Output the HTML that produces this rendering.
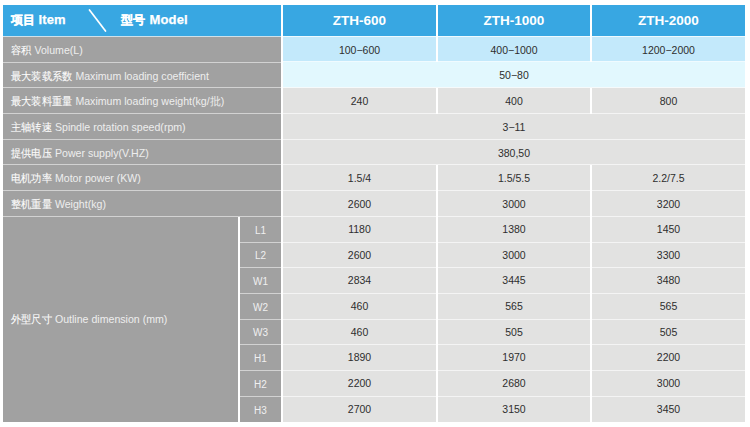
<!DOCTYPE html>
<html><head><meta charset="utf-8">
<style>
html,body{margin:0;padding:0;background:#fff;}
body{width:750px;height:427px;position:relative;overflow:hidden;font-family:"Liberation Sans",sans-serif;}
.c{position:absolute;box-sizing:border-box;display:flex;align-items:center;justify-content:center;white-space:nowrap;}
.h{color:#fff;font-weight:bold;}
.zt{font-size:13.5px;position:relative;top:0px;left:0px;}
.hx{position:absolute;color:#fff;font-weight:bold;white-space:nowrap;line-height:16px;}
.hx.k{font-size:12px;font-weight:700;letter-spacing:0.6px;-webkit-text-stroke:0.3px #fff;}
.hx.e{font-size:13px;-webkit-text-stroke:0.25px #fff;letter-spacing:0.15px;}
.lab{justify-content:flex-start;color:#fff;}
.lt{margin-left:8px;position:relative;top:-0.4px;}
.cj{display:inline-block;font-size:11px;font-weight:500;transform:scaleX(0.93);transform-origin:0 50%;-webkit-text-stroke:0.1px #f4f4f4;}
.en{font-size:10.6px;margin-left:3px;color:#eeeeee;}
.sl{color:#f0f0f0;font-size:10px;}
.st{position:relative;top:0.5px;}
.d{color:#2e2e2e;font-size:10.5px;}
.dt{position:relative;top:0.5px;}
.dt.lo{top:-0.5px;}
svg{position:absolute;left:0;top:0;}
.ln{position:absolute;height:1px;}
</style></head><body>
<div class="c h" style="left:3px;top:5px;width:278px;height:31px;background:#38a7e2;"></div><div class="c h" style="left:283px;top:5px;width:153px;height:31px;background:#38a7e2;"><span class="zt">ZTH-600</span></div><div class="c h" style="left:438px;top:5px;width:152px;height:31px;background:#38a7e2;"><span class="zt">ZTH-1000</span></div><div class="c h" style="left:592px;top:5px;width:153px;height:31px;background:#38a7e2;"><span class="zt">ZTH-2000</span></div><div class="c lab" style="left:3px;top:37px;width:278px;height:25px;background:#a1a1a1;"><span class="lt"><span class="cj" style="margin-right:-1.54px">容积</span><span class="en">Volume(L)</span></span></div><div class="c d" style="left:283px;top:37px;width:153px;height:24px;background:#c3e9fb;"><span class="dt">100−600</span></div><div class="c d" style="left:438px;top:37px;width:152px;height:24px;background:#c3e9fb;"><span class="dt">400−1000</span></div><div class="c d" style="left:592px;top:37px;width:153px;height:24px;background:#c3e9fb;"><span class="dt">1200−2000</span></div><div class="c lab" style="left:3px;top:63px;width:278px;height:24px;background:#a1a1a1;"><span class="lt"><span class="cj" style="margin-right:-4.62px">最大装载系数</span><span class="en">Maximum loading coefficient</span></span></div><div class="c d" style="left:283px;top:62px;width:462px;height:25px;background:#e2f8fe;"><span class="dt">50−80</span></div><div class="c lab" style="left:3px;top:88px;width:278px;height:25px;background:#a1a1a1;"><span class="lt"><span class="cj" style="margin-right:-4.62px">最大装料重量</span><span class="en">Maximum loading weight(kg/批)</span></span></div><div class="c d" style="left:283px;top:88px;width:153px;height:25px;background:#e2e2e1;"><span class="dt">240</span></div><div class="c d" style="left:438px;top:88px;width:152px;height:25px;background:#e2e2e1;"><span class="dt">400</span></div><div class="c d" style="left:592px;top:88px;width:153px;height:25px;background:#e2e2e1;"><span class="dt">800</span></div><div class="c lab" style="left:3px;top:114px;width:278px;height:25px;background:#a1a1a1;"><span class="lt"><span class="cj" style="margin-right:-3.08px">主轴转速</span><span class="en">Spindle rotation speed(rpm)</span></span></div><div class="c d" style="left:283px;top:114px;width:462px;height:25px;background:#e2e2e1;"><span class="dt">3−11</span></div><div class="c lab" style="left:3px;top:140px;width:278px;height:24px;background:#a1a1a1;"><span class="lt"><span class="cj" style="margin-right:-3.08px">提供电压</span><span class="en">Power supply(V.HZ)</span></span></div><div class="c d" style="left:283px;top:140px;width:462px;height:24px;background:#e2e2e1;"><span class="dt">380,50</span></div><div class="c lab" style="left:3px;top:165px;width:278px;height:25px;background:#a1a1a1;"><span class="lt"><span class="cj" style="margin-right:-3.08px">电机功率</span><span class="en">Motor power (KW)</span></span></div><div class="c d" style="left:283px;top:165px;width:153px;height:25px;background:#e2e2e1;"><span class="dt">1.5/4</span></div><div class="c d" style="left:438px;top:165px;width:152px;height:25px;background:#e2e2e1;"><span class="dt">1.5/5.5</span></div><div class="c d" style="left:592px;top:165px;width:153px;height:25px;background:#e2e2e1;"><span class="dt">2.2/7.5</span></div><div class="c lab" style="left:3px;top:191px;width:278px;height:25px;background:#a1a1a1;"><span class="lt"><span class="cj" style="margin-right:-3.08px">整机重量</span><span class="en">Weight(kg)</span></span></div><div class="c d" style="left:283px;top:191px;width:153px;height:25px;background:#e2e2e1;"><span class="dt">2600</span></div><div class="c d" style="left:438px;top:191px;width:152px;height:25px;background:#e2e2e1;"><span class="dt">3000</span></div><div class="c d" style="left:592px;top:191px;width:153px;height:25px;background:#e2e2e1;"><span class="dt">3200</span></div><div class="ln" style="left:3px;top:36px;width:278px;background:#cfe1ea"></div><div class="ln" style="left:283px;top:36px;width:153px;background:#eefaff"></div><div class="ln" style="left:438px;top:36px;width:152px;background:#eefaff"></div><div class="ln" style="left:592px;top:36px;width:153px;background:#eefaff"></div><div class="ln" style="left:3px;top:62px;width:278px;background:#d2d2d2"></div><div class="ln" style="left:283px;top:61px;width:153px;background:#f0fbff"></div><div class="ln" style="left:438px;top:61px;width:152px;background:#f0fbff"></div><div class="ln" style="left:592px;top:61px;width:153px;background:#f0fbff"></div><div class="ln" style="left:3px;top:87px;width:278px;background:#d2d2d2"></div><div class="ln" style="left:283px;top:87px;width:462px;background:#f6fafb"></div><div class="ln" style="left:3px;top:113px;width:278px;background:#d2d2d2"></div><div class="ln" style="left:283px;top:113px;width:153px;background:#f4f4f4"></div><div class="ln" style="left:438px;top:113px;width:152px;background:#f4f4f4"></div><div class="ln" style="left:592px;top:113px;width:153px;background:#f4f4f4"></div><div class="ln" style="left:3px;top:139px;width:278px;background:#d2d2d2"></div><div class="ln" style="left:283px;top:139px;width:462px;background:#f4f4f4"></div><div class="ln" style="left:3px;top:164px;width:278px;background:#d2d2d2"></div><div class="ln" style="left:283px;top:164px;width:462px;background:#f4f4f4"></div><div class="ln" style="left:3px;top:190px;width:278px;background:#d2d2d2"></div><div class="ln" style="left:283px;top:190px;width:153px;background:#f4f4f4"></div><div class="ln" style="left:438px;top:190px;width:152px;background:#f4f4f4"></div><div class="ln" style="left:592px;top:190px;width:153px;background:#f4f4f4"></div><div class="ln" style="left:3px;top:216px;width:278px;background:#d2d2d2"></div><div class="ln" style="left:283px;top:216px;width:153px;background:#f4f4f4"></div><div class="ln" style="left:438px;top:216px;width:152px;background:#f4f4f4"></div><div class="ln" style="left:592px;top:216px;width:153px;background:#f4f4f4"></div><div class="ln" style="left:240px;top:242px;width:41px;background:#d2d2d2"></div><div class="ln" style="left:283px;top:242px;width:153px;background:#f4f4f4"></div><div class="ln" style="left:438px;top:242px;width:152px;background:#f4f4f4"></div><div class="ln" style="left:592px;top:242px;width:153px;background:#f4f4f4"></div><div class="ln" style="left:240px;top:267px;width:41px;background:#d2d2d2"></div><div class="ln" style="left:283px;top:267px;width:153px;background:#f4f4f4"></div><div class="ln" style="left:438px;top:267px;width:152px;background:#f4f4f4"></div><div class="ln" style="left:592px;top:267px;width:153px;background:#f4f4f4"></div><div class="ln" style="left:240px;top:293px;width:41px;background:#d2d2d2"></div><div class="ln" style="left:283px;top:293px;width:153px;background:#f4f4f4"></div><div class="ln" style="left:438px;top:293px;width:152px;background:#f4f4f4"></div><div class="ln" style="left:592px;top:293px;width:153px;background:#f4f4f4"></div><div class="ln" style="left:240px;top:319px;width:41px;background:#d2d2d2"></div><div class="ln" style="left:283px;top:319px;width:153px;background:#f4f4f4"></div><div class="ln" style="left:438px;top:319px;width:152px;background:#f4f4f4"></div><div class="ln" style="left:592px;top:319px;width:153px;background:#f4f4f4"></div><div class="ln" style="left:240px;top:344px;width:41px;background:#d2d2d2"></div><div class="ln" style="left:283px;top:344px;width:153px;background:#f4f4f4"></div><div class="ln" style="left:438px;top:344px;width:152px;background:#f4f4f4"></div><div class="ln" style="left:592px;top:344px;width:153px;background:#f4f4f4"></div><div class="ln" style="left:240px;top:370px;width:41px;background:#d2d2d2"></div><div class="ln" style="left:283px;top:370px;width:153px;background:#f4f4f4"></div><div class="ln" style="left:438px;top:370px;width:152px;background:#f4f4f4"></div><div class="ln" style="left:592px;top:370px;width:153px;background:#f4f4f4"></div><div class="ln" style="left:240px;top:396px;width:41px;background:#d2d2d2"></div><div class="ln" style="left:283px;top:396px;width:153px;background:#f4f4f4"></div><div class="ln" style="left:438px;top:396px;width:152px;background:#f4f4f4"></div><div class="ln" style="left:592px;top:396px;width:153px;background:#f4f4f4"></div><div class="c lab" style="left:3px;top:217px;width:235px;height:205px;background:#a1a1a1;"><span class="lt" style="top:-1.5px"><span class="cj" style="margin-right:-3.08px">外型尺寸</span><span class="en">Outline dimension (mm)</span></span></div><div class="c sl" style="left:240px;top:217px;width:41px;height:25px;background:#a1a1a1;"><span class="st">L1</span></div><div class="c d" style="left:283px;top:217px;width:153px;height:25px;background:#e2e2e1;"><span class="dt lo">1180</span></div><div class="c d" style="left:438px;top:217px;width:152px;height:25px;background:#e2e2e1;"><span class="dt lo">1380</span></div><div class="c d" style="left:592px;top:217px;width:153px;height:25px;background:#e2e2e1;"><span class="dt lo">1450</span></div><div class="c sl" style="left:240px;top:243px;width:41px;height:24px;background:#a1a1a1;"><span class="st">L2</span></div><div class="c d" style="left:283px;top:243px;width:153px;height:24px;background:#e2e2e1;"><span class="dt lo">2600</span></div><div class="c d" style="left:438px;top:243px;width:152px;height:24px;background:#e2e2e1;"><span class="dt lo">3000</span></div><div class="c d" style="left:592px;top:243px;width:153px;height:24px;background:#e2e2e1;"><span class="dt lo">3300</span></div><div class="c sl" style="left:240px;top:268px;width:41px;height:25px;background:#a1a1a1;"><span class="st">W1</span></div><div class="c d" style="left:283px;top:268px;width:153px;height:25px;background:#e2e2e1;"><span class="dt lo">2834</span></div><div class="c d" style="left:438px;top:268px;width:152px;height:25px;background:#e2e2e1;"><span class="dt lo">3445</span></div><div class="c d" style="left:592px;top:268px;width:153px;height:25px;background:#e2e2e1;"><span class="dt lo">3480</span></div><div class="c sl" style="left:240px;top:294px;width:41px;height:25px;background:#a1a1a1;"><span class="st">W2</span></div><div class="c d" style="left:283px;top:294px;width:153px;height:25px;background:#e2e2e1;"><span class="dt lo">460</span></div><div class="c d" style="left:438px;top:294px;width:152px;height:25px;background:#e2e2e1;"><span class="dt lo">565</span></div><div class="c d" style="left:592px;top:294px;width:153px;height:25px;background:#e2e2e1;"><span class="dt lo">565</span></div><div class="c sl" style="left:240px;top:320px;width:41px;height:24px;background:#a1a1a1;"><span class="st">W3</span></div><div class="c d" style="left:283px;top:320px;width:153px;height:24px;background:#e2e2e1;"><span class="dt lo">460</span></div><div class="c d" style="left:438px;top:320px;width:152px;height:24px;background:#e2e2e1;"><span class="dt lo">505</span></div><div class="c d" style="left:592px;top:320px;width:153px;height:24px;background:#e2e2e1;"><span class="dt lo">505</span></div><div class="c sl" style="left:240px;top:345px;width:41px;height:25px;background:#a1a1a1;"><span class="st">H1</span></div><div class="c d" style="left:283px;top:345px;width:153px;height:25px;background:#e2e2e1;"><span class="dt lo">1890</span></div><div class="c d" style="left:438px;top:345px;width:152px;height:25px;background:#e2e2e1;"><span class="dt lo">1970</span></div><div class="c d" style="left:592px;top:345px;width:153px;height:25px;background:#e2e2e1;"><span class="dt lo">2200</span></div><div class="c sl" style="left:240px;top:371px;width:41px;height:25px;background:#a1a1a1;"><span class="st">H2</span></div><div class="c d" style="left:283px;top:371px;width:153px;height:25px;background:#e2e2e1;"><span class="dt lo">2200</span></div><div class="c d" style="left:438px;top:371px;width:152px;height:25px;background:#e2e2e1;"><span class="dt lo">2680</span></div><div class="c d" style="left:592px;top:371px;width:153px;height:25px;background:#e2e2e1;"><span class="dt lo">3000</span></div><div class="c sl" style="left:240px;top:397px;width:41px;height:25px;background:#a1a1a1;"><span class="st">H3</span></div><div class="c d" style="left:283px;top:397px;width:153px;height:25px;background:#e2e2e1;"><span class="dt lo">2700</span></div><div class="c d" style="left:438px;top:397px;width:152px;height:25px;background:#e2e2e1;"><span class="dt lo">3150</span></div><div class="c d" style="left:592px;top:397px;width:153px;height:25px;background:#e2e2e1;"><span class="dt lo">3450</span></div>
<div class="hx k" style="left:10.5px;top:11.5px">项目</div><div class="hx e" style="left:38.5px;top:12px">Item</div>
<div class="hx k" style="left:120.5px;top:11.5px">型号</div><div class="hx e" style="left:149.5px;top:12px">Model</div>
<svg width="750" height="427"><line x1="89.5" y1="10" x2="105.5" y2="31" stroke="#fff" stroke-width="1.7" stroke-linecap="round"/></svg>
</body></html>
